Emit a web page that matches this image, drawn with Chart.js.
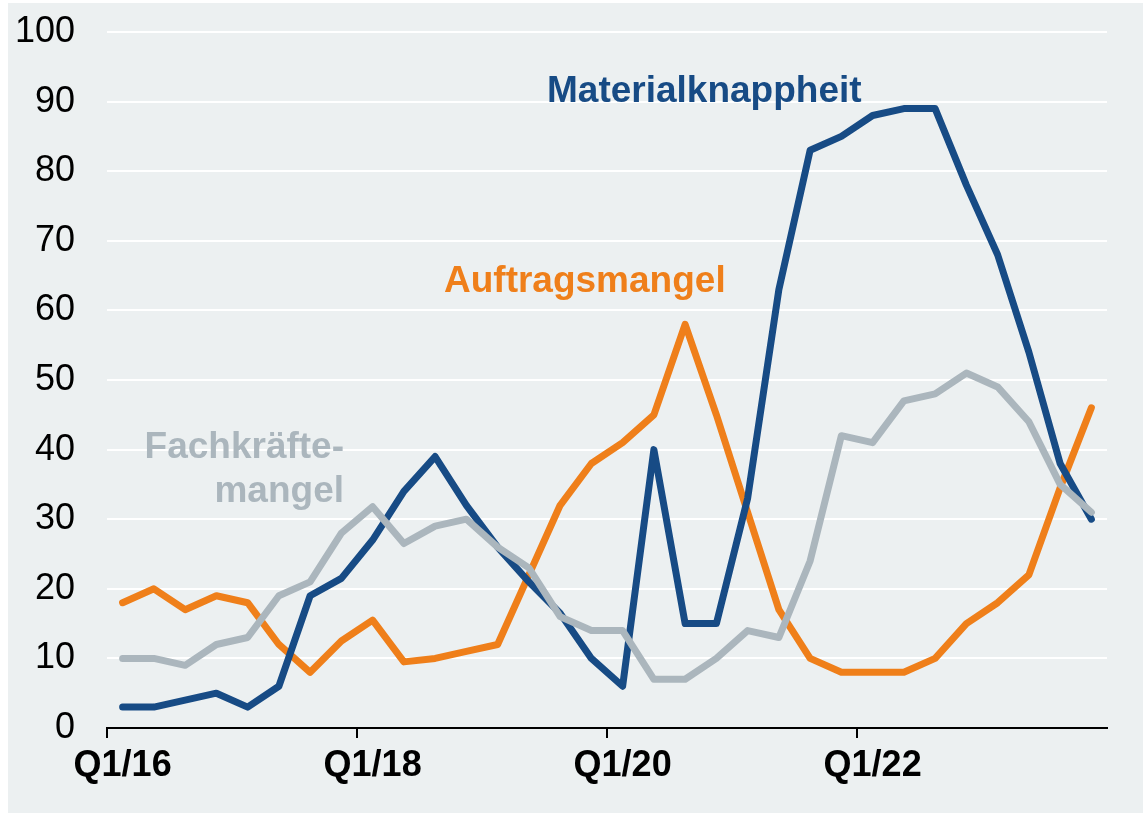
<!DOCTYPE html>
<html>
<head>
<meta charset="utf-8">
<script src="https://cdn.jsdelivr.net/npm/chart.js@4"></script>
<style>
    html, body { margin: 0; padding: 0; background: #fff; }
    #wrap { position: absolute; left: 8px; top: 3px; width: 1135px; height: 810px; background: #ECF0F1; }
    canvas { display: block; }
</style>
</head>
<body>
<div id="wrap"><canvas id="chart" width="1135" height="810"></canvas></div>
<script>
'use strict';

// Quarterly labels Q1/16 .. Q4/23
const QUARTERS = [];
for (let y = 16; y <= 23; y++) {
    for (let q = 1; q <= 4; q++) QUARTERS.push(`Q${q}/${y}`);
}

const MATERIAL = [3, 3, 4, 5, 3, 6, 19, 21.5, 27, 34, 39, 32, 26, 21, 16.5, 10,
                  6, 40, 15, 15, 33, 63, 83, 85, 88, 89, 89, 78, 68, 54, 38, 30];
const AUFTRAG = [18, 20, 17, 19, 18, 12, 8, 12.5, 15.5, 9.5, 10, 11, 12, 22, 32, 38,
                 41, 45, 58, 45, 31, 17, 10, 8, 8, 8, 10, 15, 18, 22, 34.5, 46];
const FACHKRAEFTE = [10, 10, 9, 12, 13, 19, 21, 28, 31.8, 26.5, 29, 30, 26, 23, 16, 14,
                     14, 7, 7, 10, 14, 13, 24, 42, 41, 47, 48, 51, 49, 44, 35, 31];

const Y_TICKS = [0, 10, 20, 30, 40, 50, 60, 70, 80, 90, 100];

const BLUE = '#174B85';
const ORANGE = '#EF7F1A';
const GREY = '#ABB6BD';
const FONT = '"Liberation Sans", Arial, sans-serif';

// annotation labels drawn on top of the chart area
const labelsPlugin = {
    id: 'seriesLabels',
    afterDatasetsDraw(chart) {
        const ctx = chart.ctx;
        ctx.save();
        ctx.font = `bold 37px ${FONT}`;
        ctx.textBaseline = 'alphabetic';
        ctx.textAlign = 'left';
        ctx.fillStyle = BLUE;
        ctx.fillText('Materialknappheit', 539, 99);
        ctx.fillStyle = ORANGE;
        ctx.fillText('Auftragsmangel', 436, 289);
        ctx.textAlign = 'right';
        ctx.fillStyle = GREY;
        ctx.fillText('Fachkräfte-', 336, 455);
        ctx.fillText('mangel', 336, 499);
        ctx.restore();
    }
};

const lineDs = (label, data, color) => ({
    label: label,
    data: data,
    borderColor: color,
    backgroundColor: color,
    borderWidth: 7,
    pointRadius: 0,
    borderCapStyle: 'round',
    borderJoinStyle: 'round',
    tension: 0
});

window.onload = () => {
    const chartDOM = document.getElementById('chart');
    new Chart(chartDOM, {
        type: 'line',
        data: {
            labels: QUARTERS,
            datasets: [
                lineDs('Fachkräftemangel', FACHKRAEFTE, GREY),
                lineDs('Materialknappheit', MATERIAL, BLUE),
                lineDs('Auftragsmangel', AUFTRAG, ORANGE)
            ]
        },
        options: {
            responsive: false,
            animation: false,
            layout: { padding: { top: 29, right: 36, bottom: 0, left: 0 } },
            plugins: {
                legend: { display: false },
                tooltip: { enabled: false }
            },
            scales: {
                x: {
                    offset: true,
                    grid: {
                        offset: true,
                        drawOnChartArea: false,
                        drawTicks: true,
                        tickLength: 10,
                        lineWidth: 2,
                        color: (c) => (c.index % 8 === 0 ? '#000' : 'rgba(0,0,0,0)')
                    },
                    border: { display: true, color: '#000', width: 2 },
                    ticks: {
                        autoSkip: false,
                        maxRotation: 0,
                        padding: 6,
                        color: '#000',
                        font: { family: FONT, size: 36, weight: 'bold' },
                        callback: (v, i) => (i % 8 === 0 ? QUARTERS[i] : '')
                    },
                    afterFit: (s) => { s.height = 85; }
                },
                y: {
                    min: 0,
                    max: 100,
                    afterBuildTicks: (s) => { s.ticks = Y_TICKS.map(v => ({ value: v })); },
                    grid: { color: '#FFFFFF', lineWidth: 2, drawTicks: false },
                    border: { display: false },
                    ticks: {
                        padding: 32,
                        color: '#000',
                        font: { family: FONT, size: 36 }
                    },
                    afterFit: (s) => {
                        s.width = 99;
                        s.paddingTop = 0;
                    }
                }
            }
        },
        plugins: [labelsPlugin]
    });
};
</script>
</body>
</html>
